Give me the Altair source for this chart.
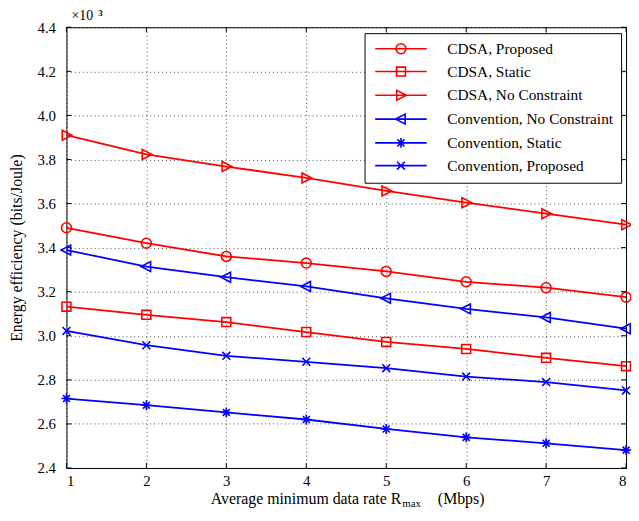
import altair as alt
import pandas as pd

# ---------------- data ----------------
rates = [1, 2, 3, 4, 5, 6, 7, 8]
series_names = [
    "CDSA, Proposed",
    "CDSA, Static",
    "CDSA, No Constraint",
    "Convention, No Constraint",
    "Convention, Static",
    "Convention, Proposed",
]
cdsa_proposed = [3.490, 3.420, 3.360, 3.330, 3.292, 3.245, 3.218, 3.175]
cdsa_static = [3.132, 3.095, 3.062, 3.017, 2.972, 2.940, 2.900, 2.862]
cdsa_no_constraint = [3.910, 3.823, 3.768, 3.716, 3.657, 3.604, 3.554, 3.504]
conv_no_constraint = [3.389, 3.314, 3.266, 3.224, 3.170, 3.122, 3.083, 3.032]
conv_static = [2.715, 2.685, 2.652, 2.620, 2.577, 2.539, 2.512, 2.481]
conv_proposed = [3.022, 2.957, 2.909, 2.882, 2.853, 2.815, 2.790, 2.752]
y_ticks = [2.4, 2.6, 2.8, 3.0, 3.2, 3.4, 3.6, 3.8, 4.0, 4.2, 4.4]
x_ticks = rates
x_title_main = "Average minimum data rate R"
x_title_sub = "max"
x_title_unit = "(Mbps)"
y_title = "Energy efficiency (bits/Joule)"
exp_main = "×10"
exp_sup = "3"

all_values = [cdsa_proposed, cdsa_static, cdsa_no_constraint,
              conv_no_constraint, conv_static, conv_proposed]
rows = []
for name, vals in zip(series_names, all_values):
    for xv, yv in zip(rates, vals):
        rows.append({"series": name, "x": xv, "y": yv})
df = pd.DataFrame(rows)

# ---------------- styles ----------------
FONT = "Liberation Serif"
W, H = 565, 445
colors = ["#ff0000", "#ff0000", "#ff0000", "#0000ff", "#0000ff", "#0000ff"]


def circle(cx):
    return f"M{cx-1},0A1,1,0,1,0,{cx+1},0A1,1,0,1,0,{cx-1},0Z"


def square(cx):
    return f"M{cx-0.9},-0.9H{cx+0.9}V0.9H{cx-0.9}Z"


def tri_right(cx):
    return f"M{cx-0.85},-1L{cx+1.1},0L{cx-0.85},1Z"


def tri_left(cx):
    return f"M{cx+0.85},-1L{cx-1.1},0L{cx+0.85},1Z"


def star(cx):
    return (f"M{cx-1},0H{cx+1}M{cx},-1V1"
            f"M{cx-0.7},-0.7L{cx+0.7},0.7M{cx-0.7},0.7L{cx+0.7},-0.7")


def cross(cx):
    return f"M{cx-0.8},-0.8L{cx+0.8},0.8M{cx-0.8},0.8L{cx+0.8},-0.8"


marker_fns = [circle, square, tri_right, tri_left, star, cross]
marker_paths = [f(0) for f in marker_fns]
legend_paths = ["M-1,0H9.4" + f(4.2) for f in marker_fns]

x_scale = alt.Scale(domain=[1, 8], nice=False, zero=False)
y_scale = alt.Scale(domain=[2.4, 4.4], nice=False, zero=False)

x_enc = alt.X("x:Q", scale=x_scale,
              axis=alt.Axis(values=x_ticks, format="d", title=None, ticks=False,
                            labelPadding=6, grid=True))
y_enc = alt.Y("y:Q", scale=y_scale,
              axis=alt.Axis(values=y_ticks, format=".1f", title=y_title, ticks=False,
                            labelPadding=11, grid=True, titlePadding=13))

base = alt.Chart(df)

lines = base.mark_line(strokeWidth=1.8).encode(
    x=x_enc, y=y_enc,
    color=alt.Color("series:N", scale=alt.Scale(domain=series_names, range=colors),
                    legend=None),
    detail="series:N",
)

points = base.mark_point(filled=False, size=100, strokeWidth=1.6, opacity=1).encode(
    x="x:Q", y="y:Q",
    color=alt.Color("series:N", scale=alt.Scale(domain=series_names, range=colors),
                    legend=None),
    shape=alt.Shape("series:N", scale=alt.Scale(domain=series_names, range=marker_paths),
                    legend=None),
)

legend_layer = base.transform_filter("datum.x < 0").mark_point(
    filled=False, size=100, strokeWidth=1.6, opacity=1).encode(
    x="x:Q", y="y:Q",
    color=alt.Color("series:N", scale=alt.Scale(domain=series_names, range=colors),
                    legend=alt.Legend(title=None)),
    shape=alt.Shape("series:N", scale=alt.Scale(domain=series_names, range=legend_paths),
                    legend=alt.Legend(title=None)),
)

# inward ticks
ydf = pd.DataFrame({"v": y_ticks})
xdf = pd.DataFrame({"v": x_ticks})
tick_style = dict(color="black", strokeWidth=1)
yt_left = alt.Chart(ydf).mark_rule(**tick_style).encode(
    y=alt.Y("v:Q", scale=y_scale), x=alt.value(0), x2=alt.value(5))
yt_right = alt.Chart(ydf).mark_rule(**tick_style).encode(
    y=alt.Y("v:Q", scale=y_scale), x=alt.value(W - 5), x2=alt.value(W))
xt_bot = alt.Chart(xdf).mark_rule(**tick_style).encode(
    x=alt.X("v:Q", scale=x_scale), y=alt.value(H - 5), y2=alt.value(H))
xt_top = alt.Chart(xdf).mark_rule(**tick_style).encode(
    x=alt.X("v:Q", scale=x_scale), y=alt.value(0), y2=alt.value(5))

# titles as text
tdf = pd.DataFrame({"a": [0]})
txt_main = alt.Chart(tdf).mark_text(text=x_title_main, font=FONT, fontSize=16,
                                    align="right", baseline="alphabetic", color="black").encode(
    x=alt.value(338), y=alt.value(481))
txt_sub = alt.Chart(tdf).mark_text(text=x_title_sub, font=FONT, fontSize=11,
                                   align="left", baseline="alphabetic", color="black").encode(
    x=alt.value(339), y=alt.value(484))
txt_unit = alt.Chart(tdf).mark_text(text=x_title_unit, font=FONT, fontSize=16,
                                    align="left", baseline="alphabetic", color="black").encode(
    x=alt.value(375), y=alt.value(481))
txt_exp = alt.Chart(tdf).mark_text(text=exp_main, font=FONT, fontSize=14,
                                   align="left", baseline="alphabetic", color="black").encode(
    x=alt.value(5), y=alt.value(-7))
txt_sup = alt.Chart(tdf).mark_text(text=exp_sup, font=FONT, fontSize=9, fontWeight="bold",
                                   align="left", baseline="alphabetic", color="black").encode(
    x=alt.value(32), y=alt.value(-11))

chart = alt.layer(
    lines, points, legend_layer,
    yt_left, yt_right, xt_bot, xt_top,
    txt_main, txt_sub, txt_unit, txt_exp, txt_sup,
).resolve_scale(
    color="independent", shape="independent"
).properties(
    width=W, height=H,
    autosize=alt.AutoSizeParams(type="none"),
    padding={"left": 59, "top": 17, "right": 5, "bottom": 40},
    background="white",
).configure_view(
    stroke="black", strokeWidth=1
).configure_axis(
    labelFont=FONT, labelFontSize=15, labelColor="black",
    titleFont=FONT, titleFontSize=16, titleColor="black", titleFontWeight="normal",
    domain=False,
    gridColor="black", gridDash=[1, 3], gridOpacity=0.7, gridWidth=1,
).configure_legend(
    orient="none", legendX=301, legendY=6,
    strokeColor="black", fillColor="white", padding=8,
    labelFont=FONT, labelFontSize=15.5, labelColor="black",
    labelOffset=60, rowPadding=6, symbolSize=100, symbolStrokeWidth=1.6,
    labelLimit=400,
)

chart.save("out.html", embed_options={"renderer": "svg", "actions": False})
